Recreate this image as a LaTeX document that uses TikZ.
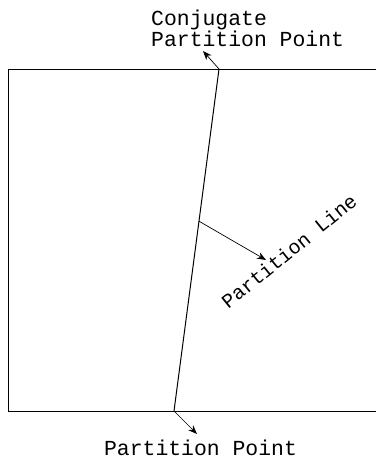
\documentclass[tikz,border=0pt]{standalone}
\usepackage{fontspec}
\setmonofont{Liberation Mono}
\usetikzlibrary{arrows.meta, calc}
\tikzset{plabel/.style={font=\ttfamily\fontsize{21.5}{21}\selectfont, inner sep=0pt},
  pointer/.style={-{Stealth[length=9bp, width=7bp]}, line width=0.7pt}}
\begin{document}
\begin{tikzpicture}[x=1bp, y=-1bp]
\useasboundingbox (0,0) rectangle (376,458);
% ====== the box (cut off on the right) and its partition line ======
\draw[line width=0.8pt] (376,69) -- (8,69) -- (8,411) -- (376,411);
\coordinate (ctop) at (219,69);
\coordinate (cbot) at (174,411);
\draw[line width=1pt] (cbot) -- (ctop);
\coordinate (cmid) at ($(cbot)!0.555!(ctop)$);
% ====== labels ======
\node[plabel, align=left, anchor=north west] (conjlab) at (151,10) {Conjugate\\Partition Point};
\node[plabel, anchor=base] (pplab) at (200.5,455) {Partition Point};
\node[plabel, rotate=39, font=\ttfamily\fontsize{20}{22}\selectfont] (linelab) at (289,251) {Partition Line};
% ====== pointers ======
\coordinate (ctip) at (203,51);
\coordinate (btip) at (197,434);
\coordinate (ltip) at (266,260);
\draw[pointer] (ctop) -- (ctip);
\draw[pointer] (cbot) -- (btip);
\draw[pointer] (cmid) -- (ltip);
\end{tikzpicture}
\end{document}
